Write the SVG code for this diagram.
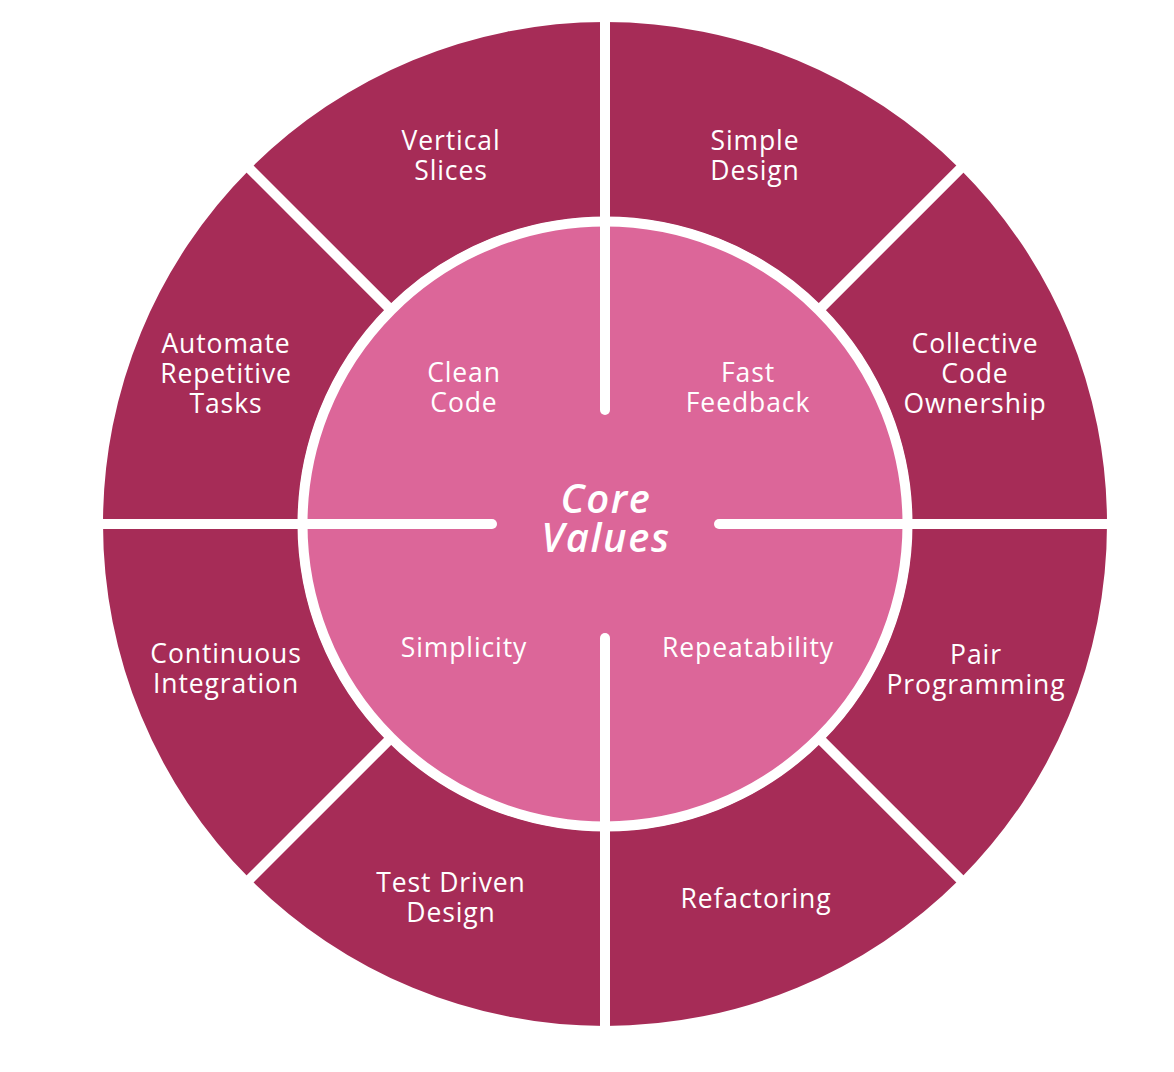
<svg xmlns="http://www.w3.org/2000/svg" width="1174" height="1072" viewBox="0 0 1174 1072">
<style>
.seg{fill:#A62C57}
.quad{fill:#DC6699}
.lbl{font-family:"Open Sans","Liberation Sans",sans-serif;font-size:26.5px;letter-spacing:0.9px;fill:#FFFFFF;text-anchor:middle}
.core{font-family:"Open Sans","Liberation Sans",sans-serif;font-size:40px;letter-spacing:1.6px;font-style:italic;font-weight:600;fill:#FFFFFF;text-anchor:middle}
.div{stroke:#FFFFFF;stroke-width:10;fill:none}
.inner{stroke:#FFFFFF;stroke-width:10;stroke-linecap:round;fill:none}
</style>
<rect width="1174" height="1072" fill="#FFFFFF"/>
<g id="outer-ring">
<g id="simple-design">
<path class="seg" d="M605 22 A502 502 0 0 1 959.97 169.03 L822.08 306.92 A307 307 0 0 0 605 217 Z"/>
<text class="lbl" x="755" y="150">Simple</text><text class="lbl" x="755" y="180">Design</text>
</g>
<g id="collective-code-ownership">
<path class="seg" d="M959.97 169.03 A502 502 0 0 1 1107 524 L912 524 A307 307 0 0 0 822.08 306.92 Z"/>
<text class="lbl" x="975" y="353">Collective</text><text class="lbl" x="975" y="383">Code</text><text class="lbl" x="975" y="413">Ownership</text>
</g>
<g id="pair-programming">
<path class="seg" d="M1107 524 A502 502 0 0 1 959.97 878.97 L822.08 741.08 A307 307 0 0 0 912 524 Z"/>
<text class="lbl" x="976" y="664">Pair</text><text class="lbl" x="976" y="694">Programming</text>
</g>
<g id="refactoring">
<path class="seg" d="M959.97 878.97 A502 502 0 0 1 605 1026 L605 831 A307 307 0 0 0 822.08 741.08 Z"/>
<text class="lbl" x="756" y="908">Refactoring</text>
</g>
<g id="test-driven-design">
<path class="seg" d="M605 1026 A502 502 0 0 1 250.03 878.97 L387.92 741.08 A307 307 0 0 0 605 831 Z"/>
<text class="lbl" x="451" y="892">Test Driven</text><text class="lbl" x="451" y="922">Design</text>
</g>
<g id="continuous-integration">
<path class="seg" d="M250.03 878.97 A502 502 0 0 1 103 524 L298 524 A307 307 0 0 0 387.92 741.08 Z"/>
<text class="lbl" x="226" y="663">Continuous</text><text class="lbl" x="226" y="693">Integration</text>
</g>
<g id="automate-repetitive-tasks">
<path class="seg" d="M103 524 A502 502 0 0 1 250.03 169.03 L387.92 306.92 A307 307 0 0 0 298 524 Z"/>
<text class="lbl" x="226" y="353">Automate</text><text class="lbl" x="226" y="383">Repetitive</text><text class="lbl" x="226" y="413">Tasks</text>
</g>
<g id="vertical-slices">
<path class="seg" d="M250.03 169.03 A502 502 0 0 1 605 22 L605 217 A307 307 0 0 0 387.92 306.92 Z"/>
<text class="lbl" x="451" y="150">Vertical</text><text class="lbl" x="451" y="180">Slices</text>
</g>
</g>
<circle cx="605" cy="524" r="298" fill="#DC6699"/>
<g id="inner-disc">
<g id="clean-code">
<path class="quad" d="M605 524 L307 524 A298 298 0 0 1 605 226 Z"/>
<text class="lbl" x="464" y="382">Clean</text><text class="lbl" x="464" y="412">Code</text>
</g>
<g id="fast-feedback">
<path class="quad" d="M605 524 L605 226 A298 298 0 0 1 903 524 Z"/>
<text class="lbl" x="748" y="382">Fast</text><text class="lbl" x="748" y="412">Feedback</text>
</g>
<g id="repeatability">
<path class="quad" d="M605 524 L903 524 A298 298 0 0 1 605 822 Z"/>
<text class="lbl" x="748" y="657">Repeatability</text>
</g>
<g id="simplicity">
<path class="quad" d="M605 524 L605 822 A298 298 0 0 1 307 524 Z"/>
<text class="lbl" x="464" y="657">Simplicity</text>
</g>
</g>
<circle cx="605" cy="524" r="298" fill="none" stroke="#DC6699" stroke-width="1"/>
<g id="dividers">
<circle class="div" cx="605" cy="524" r="302.5" stroke-width="9"/>
<line class="div" x1="605" y1="224" x2="605" y2="14"/>
<line class="div" x1="605" y1="824" x2="605" y2="1034"/>
<line class="div" x1="305" y1="524" x2="95" y2="524"/>
<line class="div" x1="905" y1="524" x2="1115" y2="524"/>
<line class="div" x1="817.1" y1="311.9" x2="965.6" y2="163.4"/>
<line class="div" x1="392.9" y1="311.9" x2="244.4" y2="163.4"/>
<line class="div" x1="817.1" y1="736.1" x2="965.6" y2="884.6"/>
<line class="div" x1="392.9" y1="736.1" x2="244.4" y2="884.6"/>
<line class="inner" x1="605" y1="226" x2="605" y2="410"/>
<line class="inner" x1="605" y1="638" x2="605" y2="822"/>
<line class="inner" x1="307" y1="524" x2="492" y2="524"/>
<line class="inner" x1="719" y1="524" x2="903" y2="524"/>
</g>
<g id="core-values">
<text class="core" x="606" y="513">Core</text>
<text class="core" x="606" y="552">Values</text>
</g>
</svg>
